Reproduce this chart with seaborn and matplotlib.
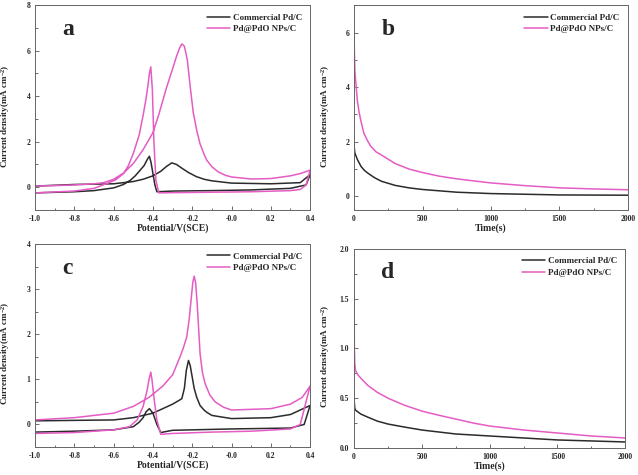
import numpy as np
import pandas as pd
import matplotlib
matplotlib.use("Agg")
import matplotlib.pyplot as plt
import seaborn as sns
from matplotlib.ticker import AutoMinorLocator

sns.set_style("ticks")
plt.rcParams['font.family'] = ['Liberation Serif', 'DejaVu Serif']
plt.rcParams['font.weight'] = 'bold'
plt.rcParams['mathtext.fontset'] = 'custom'
plt.rcParams['mathtext.rm'] = 'Liberation Serif:bold'
plt.rcParams['mathtext.it'] = 'Liberation Serif:bold'
plt.rcParams['mathtext.bf'] = 'Liberation Serif:bold'

SERIES = ["Commercial Pd/C", "Pd@PdO NPs/C"]
COLORS = {"Commercial Pd/C": "#2b2b2b", "Pd@PdO NPs/C": "#e45cc4"}

# ---- Panel a: CV (forward then backward scan) ----
a_pk_fwd_x = [-1.0, -0.9, -0.8, -0.7, -0.65, -0.6, -0.55, -0.5, -0.45, -0.4, -0.37, -0.33, -0.3, -0.28, -0.265, -0.253, -0.24, -0.225, -0.21, -0.195, -0.177, -0.16, -0.14, -0.126, -0.1, -0.067, -0.03, 0.0, 0.1, 0.2, 0.3, 0.35, 0.4]
a_pk_fwd_y = [0.05, 0.07, 0.1, 0.15, 0.2, 0.35, 0.62, 1.04, 1.65, 2.4, 3.2, 4.4, 5.2, 5.75, 6.1, 6.3, 6.2, 5.6, 4.4, 3.3, 2.5, 1.9, 1.45, 1.19, 0.9, 0.67, 0.52, 0.45, 0.36, 0.38, 0.5, 0.6, 0.75]
a_pk_bwd_x = [0.4, 0.38, 0.35, 0.3, 0.1, -0.1, -0.3, -0.37, -0.385, -0.395, -0.403, -0.411, -0.418, -0.425, -0.435, -0.449, -0.47, -0.5, -0.525, -0.55, -0.59, -0.635, -0.7, -0.8, -1.0]
a_pk_bwd_y = [0.75, 0.1, -0.1, -0.15, -0.2, -0.22, -0.24, -0.25, 0.3, 2.0, 4.3, 5.29, 5.0, 4.5, 3.9, 3.2, 2.3, 1.48, 0.95, 0.6, 0.32, 0.16, -0.05, -0.17, -0.25]
a_bk_fwd_x = [-1.0, -0.8, -0.6, -0.5, -0.45, -0.4, -0.36, -0.33, -0.304, -0.28, -0.25, -0.22, -0.18, -0.14, -0.1, 0.0, 0.2, 0.35, 0.4]
a_bk_fwd_y = [0.05, 0.12, 0.15, 0.25, 0.35, 0.5, 0.7, 0.92, 1.07, 1.0, 0.82, 0.65, 0.47, 0.35, 0.28, 0.18, 0.15, 0.2, 0.55]
a_bk_bwd_x = [0.4, 0.38, 0.3, 0.1, -0.1, -0.3, -0.38, -0.39, -0.4, -0.41, -0.418, -0.43, -0.445, -0.465, -0.49, -0.516, -0.55, -0.6, -0.7, -0.8, -1.0]
a_bk_bwd_y = [0.55, 0.1, -0.05, -0.12, -0.15, -0.17, -0.2, 0.1, 0.6, 1.1, 1.36, 1.2, 0.95, 0.75, 0.5, 0.3, 0.12, -0.03, -0.15, -0.2, -0.25]

# ---- Panel b: chronoamperometry ----
b_pk_t = [0, 2, 6, 12, 24, 36, 48, 72, 100, 121, 160, 217, 300, 400, 500, 620, 750, 880, 1000, 1250, 1500, 1750, 2000]
b_pk_y = [6.0, 5.3, 4.6, 4.2, 3.5, 3.1, 2.8, 2.3, 2.02, 1.84, 1.63, 1.46, 1.2, 1.0, 0.87, 0.74, 0.64, 0.56, 0.49, 0.39, 0.31, 0.27, 0.24]
b_bk_t = [0, 2, 5, 12, 24, 50, 75, 100, 150, 200, 300, 400, 500, 750, 1000, 1500, 2000]
b_bk_y = [1.9, 1.75, 1.6, 1.5, 1.35, 1.1, 0.95, 0.85, 0.68, 0.55, 0.4, 0.31, 0.25, 0.15, 0.1, 0.05, 0.04]

# ---- Panel c: CV ----
c_pk_fwd_x = [-1.0, -0.8, -0.6, -0.5, -0.42, -0.35, -0.3, -0.262, -0.245, -0.228, -0.215, -0.205, -0.197, -0.19, -0.183, -0.175, -0.167, -0.16, -0.148, -0.134, -0.11, -0.083, -0.04, 0.0, 0.2, 0.3, 0.36, 0.4]
c_pk_fwd_y = [0.1, 0.15, 0.25, 0.4, 0.6, 0.85, 1.1, 1.5, 1.7, 1.94, 2.35, 2.8, 3.15, 3.29, 3.15, 2.7, 2.1, 1.57, 1.15, 0.9, 0.65, 0.5, 0.38, 0.32, 0.35, 0.45, 0.6, 0.85]
c_pk_bwd_x = [0.4, 0.35, 0.3, 0.1, -0.1, -0.3, -0.36, -0.38, -0.395, -0.405, -0.411, -0.42, -0.43, -0.45, -0.48, -0.52, -0.6, -0.8, -1.0]
c_pk_bwd_y = [0.85, 0.0, -0.1, -0.15, -0.17, -0.2, -0.22, 0.1, 0.6, 1.0, 1.16, 1.0, 0.75, 0.4, 0.1, -0.05, -0.12, -0.18, -0.2]
c_bk_fwd_x = [-1.0, -0.8, -0.6, -0.5, -0.4, -0.3, -0.253, -0.24, -0.23, -0.219, -0.21, -0.2, -0.19, -0.177, -0.16, -0.14, -0.126, -0.1, 0.0, 0.2, 0.3, 0.4]
c_bk_fwd_y = [0.08, 0.09, 0.1, 0.15, 0.25, 0.45, 0.57, 0.8, 1.2, 1.42, 1.3, 1.05, 0.8, 0.6, 0.42, 0.32, 0.27, 0.2, 0.13, 0.15, 0.22, 0.42]
c_bk_bwd_x = [0.4, 0.37, 0.3, 0.0, -0.3, -0.36, -0.38, -0.4, -0.418, -0.435, -0.45, -0.47, -0.5, -0.6, -0.8, -1.0]
c_bk_bwd_y = [0.42, 0.0, -0.08, -0.1, -0.13, -0.18, 0.0, 0.25, 0.35, 0.28, 0.15, 0.05, -0.05, -0.12, -0.15, -0.17]

# ---- Panel d: chronoamperometry ----
d_pk_t = [0, 2, 5, 10, 25, 50, 100, 170, 250, 370, 500, 620, 750, 880, 1000, 1250, 1500, 1750, 2000]
d_pk_y = [1.5, 1.0, 0.85, 0.78, 0.74, 0.7, 0.63, 0.56, 0.5, 0.43, 0.37, 0.33, 0.29, 0.25, 0.22, 0.18, 0.15, 0.12, 0.1]
d_bk_t = [0, 2, 5, 10, 50, 100, 170, 250, 370, 500, 750, 1000, 1250, 1500, 1750, 2000]
d_bk_y = [0.5, 0.45, 0.4, 0.38, 0.34, 0.31, 0.27, 0.24, 0.21, 0.18, 0.14, 0.12, 0.1, 0.08, 0.07, 0.06]


def cv_frame(bk_fx, bk_fy, bk_bx, bk_by, pk_fx, pk_fy, pk_bx, pk_by):
    rows = []
    for name, xs, ys in [(SERIES[0], bk_fx + bk_bx, bk_fy + bk_by),
                         (SERIES[1], pk_fx + pk_bx, pk_fy + pk_by)]:
        for i, (x, y) in enumerate(zip(xs, ys)):
            rows.append({"x": x, "y": y, "series": name, "order": i})
    return pd.DataFrame(rows)


def ca_frame(bk_t, bk_y, pk_t, pk_y):
    rows = []
    for name, xs, ys in [(SERIES[0], bk_t, bk_y), (SERIES[1], pk_t, pk_y)]:
        for i, (x, y) in enumerate(zip(xs, ys)):
            rows.append({"x": x, "y": y, "series": name, "order": i})
    return pd.DataFrame(rows)


df_a = cv_frame(a_bk_fwd_x, a_bk_fwd_y, a_bk_bwd_x, a_bk_bwd_y, a_pk_fwd_x, a_pk_fwd_y, a_pk_bwd_x, a_pk_bwd_y)
df_b = ca_frame(b_bk_t, b_bk_y, b_pk_t, b_pk_y)
df_c = cv_frame(c_bk_fwd_x, c_bk_fwd_y, c_bk_bwd_x, c_bk_bwd_y, c_pk_fwd_x, c_pk_fwd_y, c_pk_bwd_x, c_pk_bwd_y)
df_d = ca_frame(d_bk_t, d_bk_y, d_pk_t, d_pk_y)

fig = plt.figure(figsize=(6.38, 4.75), dpi=100)
axes = {
    "a": fig.add_axes([0.055, 0.558, 0.431, 0.431]),
    "b": fig.add_axes([0.555, 0.558, 0.429, 0.431]),
    "c": fig.add_axes([0.055, 0.059, 0.431, 0.427]),
    "d": fig.add_axes([0.555, 0.057, 0.425, 0.419]),
}

specs = {
    "a": (df_a, (-1.0, 0.4), (-1, 8), np.arange(-1.0, 0.41, 0.2), [0, 2, 4, 6, 8], "Potential/V(SCE)"),
    "b": (df_b, (0, 2000), (-0.5, 7), [0, 500, 1000, 1500, 2000], [0, 2, 4, 6], "Time(s)"),
    "c": (df_c, (-1.0, 0.4), (-0.5, 4), np.arange(-1.0, 0.41, 0.2), [0, 1, 2, 3, 4], "Potential/V(SCE)"),
    "d": (df_d, (0, 2000), (0, 2.0), [0, 500, 1000, 1500, 2000], [0.0, 0.5, 1.0, 1.5, 2.0], "Time(s)"),
}

for key, ax in axes.items():
    df, xl, yl, xt, yt, xlab = specs[key]
    sns.lineplot(data=df, x="x", y="y", hue="series", units="series", estimator=None,
                 sort=False, palette=COLORS, hue_order=SERIES, lw=1.1, ax=ax)
    ax.set_xlim(*xl)
    ax.set_ylim(*yl)
    ax.set_xticks(xt)
    ax.set_yticks(yt)
    if key in ("a", "c"):
        ax.set_xticklabels([f"{v:.1f}" for v in xt])
    elif key == "d":
        ax.set_yticklabels([f"{v:.1f}" for v in yt])
    ax.xaxis.set_minor_locator(AutoMinorLocator(2))
    ax.yaxis.set_minor_locator(AutoMinorLocator(2))
    ax.tick_params(which="both", direction="in", labelsize=5.5, width=0.6, color="#555555")
    ax.tick_params(which="major", length=3)
    ax.tick_params(which="minor", length=1.8)
    for s in ax.spines.values():
        s.set_linewidth(0.7)
        s.set_color("#666666")
    ax.set_xlabel(xlab, fontsize=7, fontweight="bold", labelpad=0.5)
    ax.set_ylabel("Current density(mA cm$^{-2}$)", fontsize=6.5, fontweight="bold", labelpad=2)
    ax.yaxis.set_label_coords(-0.085 if key in ("a", "c") else -0.08, 0.46)
    leg = ax.legend(loc="upper right", frameon=False, fontsize=6.5, handlelength=2.6,
                    handletextpad=0.3, labelspacing=0.35, borderaxespad=0.5)
    for t in leg.get_texts():
        t.set_fontweight("bold")
    ax.text(0.1, 0.88, key, transform=ax.transAxes, fontsize=17, fontweight="bold",
            ha="left", va="center")

fig.savefig("out.png", dpi=100)
